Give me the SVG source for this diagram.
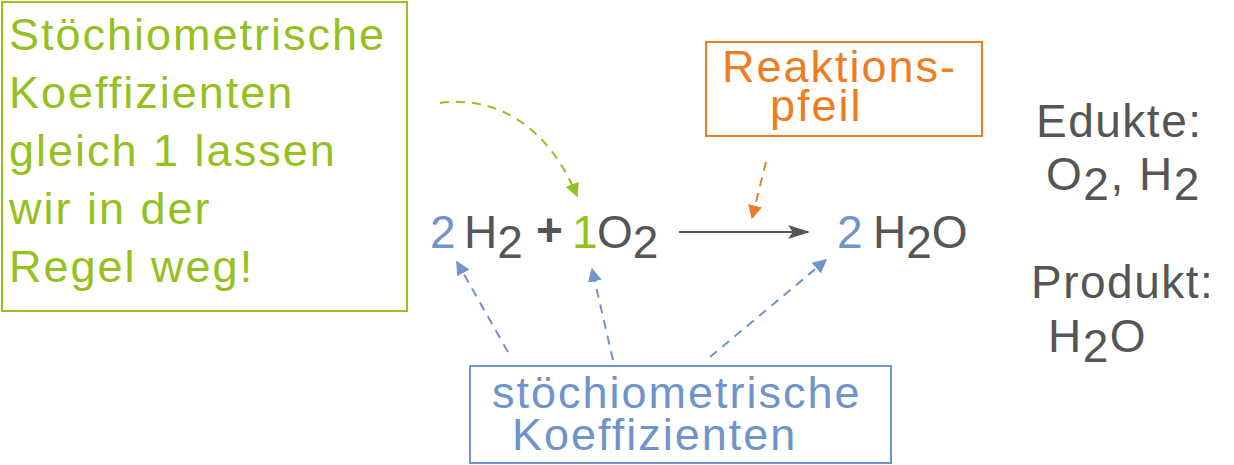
<svg xmlns="http://www.w3.org/2000/svg" width="1234" height="465" viewBox="0 0 1234 465">
<style>
text{font-family:"Liberation Sans",Arial,sans-serif}
.g{fill:#95c11f}.o{fill:#ee7d22}.b{fill:#6f93cb}.k{fill:#555}
.t{font-size:45px;letter-spacing:2px}.e{font-size:46px}.s{font-size:46px;letter-spacing:1.5px}
</style>
<defs>
<marker id="mg" viewBox="0 0 10 10" refX="9" refY="5" markerWidth="7" markerHeight="7" orient="auto"><path d="M0,0L10,5L0,10z" fill="#95c11f"/></marker>
<marker id="mo" viewBox="0 0 10 10" refX="9" refY="5" markerWidth="7" markerHeight="7" orient="auto"><path d="M0,0L10,5L0,10z" fill="#ee7d22"/></marker>
<marker id="mb" viewBox="0 0 10 10" refX="9" refY="5" markerWidth="7" markerHeight="7" orient="auto"><path d="M0,0L10,5L0,10z" fill="#6f93cb"/></marker>
<marker id="mk" viewBox="0 0 10 10" refX="9" refY="5" markerWidth="22" markerHeight="14" orient="auto" markerUnits="userSpaceOnUse" preserveAspectRatio="none"><path d="M0,0L10,5L0,10L2,5z" fill="#555"/></marker>
</defs>
<g id="green-note">
<rect x="2" y="2" width="405" height="309" fill="none" stroke="#95c11f" stroke-width="2"/>
<text class="t g"><tspan x="9" y="50">Stöchiometrische</tspan><tspan x="9" y="108">Koeffizienten</tspan><tspan x="9" y="166">gleich 1 lassen</tspan><tspan x="9" y="224">wir in der</tspan><tspan x="9" y="282">Regel weg!</tspan></text>
</g>
<g id="orange-note">
<rect x="706" y="42" width="276" height="94" fill="none" stroke="#ee7d22" stroke-width="2"/>
<text class="t o"><tspan x="722" y="82">Reaktions-</tspan><tspan x="770" y="121">pfeil</tspan></text>
</g>
<g id="blue-note">
<rect x="470" y="366" width="421" height="97" fill="none" stroke="#6f93cb" stroke-width="2"/>
<text class="t b"><tspan x="492" y="408">stöchiometrische</tspan><tspan x="512" y="450">Koeffizienten</tspan></text>
</g>
<g id="equation">
<text class="e b" x="430" y="248">2</text>
<text class="e k" x="464" y="248">H<tspan dy="10">2</tspan></text>
<text class="e k" x="536" y="246" font-weight="bold" font-size="40">+</text>
<text class="e g" x="572" y="248">1</text>
<text class="e k" x="597" y="248">O<tspan dy="10">2</tspan></text>
<text class="e b" x="837" y="248">2</text>
<text class="e k" x="873" y="248">H<tspan dy="10">2</tspan><tspan dy="-10">O</tspan></text>
</g>
<g id="lists">
<text class="s k" x="1036" y="137">Edukte:</text>
<text class="s k" x="1046" y="190">O<tspan dy="10">2</tspan><tspan dy="-10">, H</tspan><tspan dy="10">2</tspan></text>
<text class="s k" x="1031" y="298">Produkt:</text>
<text class="s k" x="1048" y="352">H<tspan dy="10">2</tspan><tspan dy="-10">O</tspan></text>
</g>
<g id="connectors" fill="none" stroke-width="2">
<line x1="679" y1="232" x2="808" y2="232" stroke="#555" marker-end="url(#mk)"/>
<path d="M440,103 C500,95 550,130 577,196" stroke="#95c11f" stroke-dasharray="9,7" marker-end="url(#mg)"/>
<line x1="766" y1="162" x2="752" y2="218" stroke="#ee7d22" stroke-dasharray="9,7" marker-end="url(#mo)"/>
<line x1="508" y1="352" x2="457" y2="262" stroke="#6f93cb" stroke-dasharray="9,7" marker-end="url(#mb)"/>
<line x1="613" y1="360" x2="592" y2="269" stroke="#6f93cb" stroke-dasharray="9,7" marker-end="url(#mb)"/>
<line x1="710" y1="357" x2="826" y2="260" stroke="#6f93cb" stroke-dasharray="9,7" marker-end="url(#mb)"/>
</g>
</svg>
